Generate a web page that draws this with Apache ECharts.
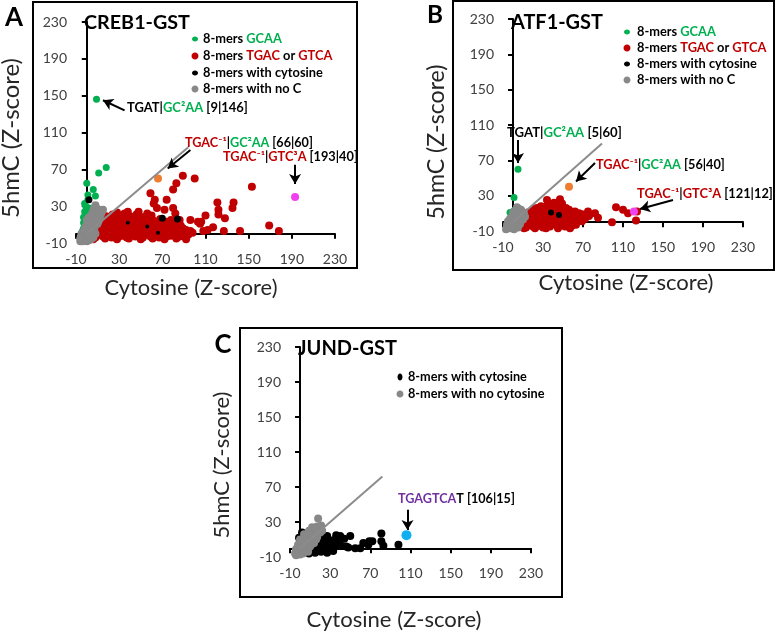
<!DOCTYPE html>
<html><head><meta charset="utf-8">
<script src="https://cdn.jsdelivr.net/npm/echarts@6/dist/echarts.min.js"></script>
<style>html,body{margin:0;padding:0;background:#fff}#c{width:776px;height:634px}</style>
</head><body><div id="c"></div>
<script>
// ---------- axis ticks (same for every panel) ----------
const ticks = [-10, 30, 70, 110, 150, 190, 230];

// ---------- Panel A : CREB1-GST ----------
const greenA = [[9,146],[18,72],[11,66],[0,55],[6,48],[1,42],[8,41],[1,37],[-1,30],[2,28],[-2,24],[1,22],[-3,18],[0,16],[-3,12],[-1,9],[-3,6],[-2,2],[-3,-1],[4,25],[3,20],[-4,3],[-2,33]];
const redA = [
 [4,-2],[8,-4],[12,-1],[15,-3],[19,-2],[23,-4],[26,-1],[30,-3],[34,-2],[37,-4],[41,-1],[45,-3],[48,-2],[52,-4],[56,-1],[59,-3],[63,-2],[67,-4],[70,-1],[74,-3],[78,-2],[82,-1],[86,-3],[90,-2],[94,-1],[98,1],
 [6,-6],[17,-5],[28,-6],[39,-5],[50,-6],[61,-5],[72,-6],[83,-5],[92,-6],
 [2,1],[16,1],[27,0],[38,1],[49,0],[60,1],[71,0],[80,1],[91,0],
 [6,3],[10,5],[14,2],[18,4],[21,6],[25,3],[29,5],[32,2],[36,4],[40,6],[43,3],[47,5],[51,2],[55,4],[58,6],[62,3],[66,5],[69,2],[73,4],[77,6],[81,3],[85,5],[88,2],[92,4],[96,3],
 [13,7],[24,6],[34,7],[45,7],[56,6],[67,7],[78,6],[89,6],
 [7,9],[11,8],[15,10],[19,8],[23,11],[27,9],[31,8],[35,10],[38,9],[42,11],[46,8],[50,10],[54,9],[57,11],[61,8],[65,10],[68,12],[72,9],[76,11],[80,8],[84,10],[87,9],
 [16,12],[27,12],[39,12],[51,12],[63,12],[70,14],[81,12],
 [9,14],[13,15],[17,13],[21,16],[25,14],[29,15],[33,13],[37,16],[41,14],[45,15],[49,13],[53,16],[57,14],[61,15],[65,13],[74,13],[78,15],
 [15,17],[26,17],[33,17],[43,17],[50,18],[58,17],[68,16],
 [12,18],[18,19],[24,21],[30,20],[35,22],[40,19],[46,21],[52,18],[56,22],[60,20],[48,24],[38,24],[28,23],
 [89,63],[100,60],[83,55],[80,48],[59,44],[153,51],[63,37],[74,37],[65,28],[72,26],[80,28],[82,22],[86,15],[96,15],[103,13],[110,20],
 [121,34],[136,34],[122,26],[135,28],[122,21],[128,17],[106,13],[117,7],[108,3],[112,4],[127,3],[142,3],[169,9],[178,3],[105,11],[62,33]
];
const blackA = [[2,37],[70,17],[84,16]];
const blackAhidden = [[38,12],[56,8],[66,1]];
const greyA = [
 [-6,-5],[-5,-3],[-4,-6],[-3,-4],[-2,-2],[-1,-5],[0,-3],[1,-1],[2,-4],[3,-2],[4,0],[5,-3],[6,1],[7,3],[-5,0],[-3,2],[-1,1],[1,4],[3,5],[5,6],[-4,-8],[-2,-7],[0,-8],[2,-7],[4,-6],[6,-4],[8,0],[-6,-8],
 [-1,8],[0,10],[1,12],[2,9],[3,14],[4,11],[5,16],[6,13],[7,18],[8,15],[9,12],[10,17],[0,15],[2,18],[4,19],[6,8],[8,9],[-2,5],[10,11],[11,14],
 [5,22],[6,25],[7,28],[8,31],[9,24],[10,27],[11,22],[12,25],[13,21],[14,24],[15,26],[7,21],[9,20],[12,18]
];
const orangeA = [[66,60]];
const magentaA = [[193,40]];
const diagA = [[0,0],[94,94]];

// ---------- Panel B : ATF1-GST ----------
const greenB = [[5,60],[1,28],[0,12],[2,14],[-3,11],[4,10],[8,12]];
const redB = [
 [9,-4],[13,-6],[16,-3],[20,-5],[23,-2],[27,-4],[30,-6],[34,-3],[37,-5],[41,-2],[44,-4],[48,-3],[52,-5],[55,-2],[59,-4],[63,-3],
 [11,-7],[22,-7],[33,-7],[45,-7],[57,-7],
 [12,-1],[24,-1],[36,-1],[49,-1],[60,-1],
 [10,1],[14,3],[17,0],[21,2],[25,1],[28,3],[32,0],[35,2],[39,1],[42,3],[46,1],[50,2],[53,0],[57,3],[61,1],[65,2],[69,1],
 [14,4],[27,5],[40,4],[53,4],[64,4],[72,4],
 [12,6],[16,8],[19,5],[23,7],[26,8],[30,6],[33,8],[37,5],[41,7],[44,8],[48,6],[52,5],[55,8],[59,6],[63,7],[67,5],[71,8],[76,7],
 [18,9],[31,9],[45,9],[57,9],[69,9],
 [15,11],[19,12],[22,10],[26,13],[29,11],[33,14],[36,12],[40,10],[43,13],[47,11],[51,14],[54,12],[58,10],[62,12],[66,10],[82,10],[75,12],
 [21,15],[31,14],[44,15],[56,14],[38,19],
 [24,16],[28,18],[31,17],[35,20],[38,16],[42,19],[46,17],[49,21],[53,16],[34,25],[47,26],[41,22],
 [103,17],[110,14],[115,10],[124,12],[123,2],[99,0],[85,5]
];
const blackB = [[46,8],[38,11]];
const greyB = [
 [-7,-8],[-6,-6],[-5,-7],[-4,-5],[-3,-7],[-2,-4],[-1,-6],[0,-3],[1,-5],[2,-2],[3,-4],[4,-1],[5,-3],[6,0],[7,-2],[8,2],
 [-6,-3],[-4,-1],[-2,1],[0,2],[2,4],[4,3],[6,5],[8,6],[10,8],[-3,4],[-1,6],[1,8],[3,10],[5,9],[7,11],[9,12],
 [0,11],[2,13],[4,14],[6,15],[8,14],[11,10],[12,6],[10,3],[4,17],[-5,1],[1,-8],[5,-6]
];
const orangeB = [[56,40]];
const magentaB = [[121,12]];
const diagB = [[0,0],[89,89]];

// ---------- Panel C : JUND-GST ----------
const blackC = [
 [-4,-6],[-2,-3],[0,-5],[2,-1],[4,-4],[6,0],[8,-2],[10,1],[12,-3],[14,2],[16,-1],[18,3],[20,0],[22,2],[24,-2],[26,1],[28,-1],[30,2],
 [9,-6],[15,-5],[21,-4],[27,-5],[33,-3],
 [0,4],[3,7],[5,10],[7,14],[9,17],[11,18],[13,15],[15,12],[17,8],[19,11],[21,14],[23,9],[25,6],[27,8],[29,5],[31,9],[12,7],[8,10],[6,16],[4,14],[2,18],[-1,12],
 [14,19],[18,16],[22,18],[25,12],[20,6],[16,4],[27,14],[10,13],
 [35,10],[38,6],[40,14],[34,2],[31,-1],[46,2],[50,14],[48,1],[55,0],[60,0],[63,6],[68,4],[69,8],[72,8],[81,17],[81,8],[83,3],[98,4],[41,3],[44,11],[36,15]
];
const greyC = [
 [-5,-6],[-4,-4],[-3,-7],[-2,-2],[-1,-5],[0,0],[1,-3],[2,2],[3,-1],[4,4],[5,1],[6,6],[7,3],[8,8],[9,5],[10,10],[11,7],[12,12],[13,9],[14,14],
 [15,11],[16,16],[17,13],[18,19],[19,21],[20,23],[17,25],[-3,0],[-1,3],[1,6],[3,9],[5,12],[-4,-1],[18,34],[0,-7],[4,-3],[8,1],[12,5],
 [2,-4],[6,-2],[10,2],[14,6],[16,10],[-2,4],[2,8],[6,12],[10,16],[13,19],[15,22],[20,18],[22,20],[-4,-8],[3,-6],[8,-4],[0,10],[4,16],[9,20],[12,24],[21,26]
];
const cyanC = [[106,15]];
const diagC = [[0,0],[82,82]];

// ---------- colours ----------
const GREEN = '#00b050', RED = '#c00000', BLACK = '#000000', GREY = '#888888',
      ORANGE = '#ed7d31', MAGENTA = '#f040f0', CYAN = '#10b0f0', PURPLE = '#7030a0';

const FONT = 'Lato, "Open Sans", sans-serif';

// font size that makes a string span a given width (reference fonts differ)
const mctx = document.createElement('canvas').getContext('2d');
function fit(str, weight, target) {
  mctx.font = weight + ' 100px ' + FONT;
  return 100 * target / mctx.measureText(str).width;
}
function plain(s) { return s.replace(/\{[a-z]\|/g, '').replace(/\}/g, ''); }

function richFor(fs) {
  const rs = c => ({fill: c, fontWeight: 'bold', fontSize: fs, fontFamily: FONT});
  return {k: rs('#000'), g: rs(GREEN), r: rs(RED), p: rs(PURPLE)};
}

const grids = [
  {left: 76, top: 22, width: 259, height: 221},
  {left: 503, top: 19, width: 240, height: 212},
  {left: 290, top: 347, width: 241, height: 210}
];

function axis(i) {
  return {
    gridIndex: i, type: 'value', min: ticks[0], max: ticks[ticks.length - 1], interval: ticks[1] - ticks[0],
    axisLine: {show: true, lineStyle: {color: '#000', width: 2}},
    axisTick: {show: true, inside: false, length: 5, lineStyle: {color: '#000', width: 2}},
    axisLabel: {color: '#404040', fontSize: 14, fontFamily: FONT, margin: 9},
    splitLine: {show: false}
  };
}

function scat(name, data, color, size, gi, extra) {
  return Object.assign({
    name, type: 'scatter', xAxisIndex: gi, yAxisIndex: gi, data,
    symbolSize: size, itemStyle: {color, opacity: 1}, silent: true, clip: false
  }, extra || {});
}
function diag(data, gi) {
  return {type: 'line', xAxisIndex: gi, yAxisIndex: gi, data, showSymbol: false, silent: true,
    lineStyle: {color: '#8c8c8c', width: 2}};
}
function arrows(list) {
  return {silent: true, symbol: ['none', 'arrow'], symbolSize: [9, 10],
    lineStyle: {color: '#000', width: 2, type: 'solid'}, label: {show: false},
    data: list.map(a => [{coord: a[0]}, {coord: a[1]}])};
}

const series = [
  scat('gA', greenA, GREEN, 7, 0),
  scat('rA', redA, RED, 8, 0),
  scat('kA2', blackAhidden, BLACK, 4, 0),
  scat('kA', blackA, BLACK, 7, 0),
  scat('yA', greyA, GREY, 8, 0),
  diag(diagA, 0),
  scat('oA', orangeA, ORANGE, 8, 0, {markLine: arrows([[[35,134],[15,145]], [[96,91],[75,71]]])}),
  scat('mA', magentaA, MAGENTA, 8, 0, {markLine: arrows([[[193,75],[193,54]]])}),

  scat('gB', greenB, GREEN, 7, 1),
  scat('rB', redB, RED, 8, 1),
  scat('kB', blackB, BLACK, 6, 1),
  scat('yB', greyB, GREY, 8, 1),
  diag(diagB, 1),
  scat('oB', orangeB, ORANGE, 8, 1, {markLine: arrows([[[5,93],[5,67]], [[82,67],[63,46]]])}),
  scat('mB', magentaB, MAGENTA, 8, 1, {markLine: arrows([[[160,25],[127,15]]])}),

  scat('kC', blackC, BLACK, 8, 2),
  scat('yC', greyC, GREY, 8, 2),
  diag(diagC, 2),
  scat('cC', cyanC, CYAN, 10, 2, {markLine: arrows([[[107,44],[107,21]]])})
];

// ---------- text helpers ----------
// bold rich text, left edge x, vertical centre y, fitted to the reference width w
function btxt(x, y, text, w, fsOverride) {
  const fs = fsOverride || fit(plain(text), 'bold', w);
  return {type: 'text', x, y, silent: true, z: 100, style: {
    text, fill: '#000', fontFamily: FONT, fontSize: fs, fontWeight: 'bold',
    textAlign: 'left', textVerticalAlign: 'middle', rich: richFor(fs)}};
}
function ctxt(x, y, text, w, weight, rot) {
  const fs = fit(text, weight, w);
  return {type: 'text', x, y, rotation: rot || 0, silent: true, z: 100, style: {
    text, fill: weight === 'bold' ? '#000' : '#262626', fontFamily: FONT, fontSize: fs, fontWeight: weight,
    textAlign: 'center', textVerticalAlign: 'middle'}};
}
function dot(x, y, color, rx, ry) {
  return {type: 'ellipse', shape: {cx: x, cy: y, rx, ry}, style: {fill: color}, silent: true, z: 100};
}
function frame(x, y, w, h) {
  return {type: 'rect', shape: {x, y, width: w, height: h}, style: {fill: 'none', stroke: '#000', lineWidth: 2}, silent: true, z: 90};
}

const legA = fit('8-mers with cytosine', 'bold', 120);
const legB = fit('8-mers with cytosine', 'bold', 120);
const legC = fit('8-mers with cytosine', 'bold', 119);

const graphic = [
  frame(33, 2, 324, 266),
  frame(453, 1, 321, 269),
  frame(240, 328, 322, 269),

  ctxt(14, 18, 'A', 18, 'bold'),
  ctxt(435, 15, 'B', 16, 'bold'),
  ctxt(223, 345, 'C', 17, 'bold'),

  btxt(84, 23, 'CREB1-GST', 106),
  btxt(511, 23, 'ATF1-GST', 92),
  btxt(298, 349, 'JUND-GST', 99),

  ctxt(191, 288, 'Cytosine (Z-score)', 173, 'normal'),
  ctxt(626, 283, 'Cytosine (Z-score)', 175, 'normal'),
  ctxt(394, 620, 'Cytosine (Z-score)', 175, 'normal'),
  ctxt(11, 138, '5hmC (Z-score)', 160, 'normal', Math.PI / 2),
  ctxt(437, 142, '5hmC (Z-score)', 155, 'normal', Math.PI / 2),
  ctxt(222, 465, '5hmC (Z-score)', 147, 'normal', Math.PI / 2),

  // legend A
  dot(195, 39, GREEN, 3, 2.5), btxt(203, 39, '{k|8-mers }{g|GCAA}', 0, legA),
  dot(195, 56, RED, 3.5, 3.5), btxt(203, 56, '{k|8-mers }{r|TGAC}{k| or }{r|GTCA}', 0, legA),
  dot(195, 73, BLACK, 3, 2.5), btxt(203, 73, '{k|8-mers with cytosine}', 0, legA),
  dot(195, 89, GREY, 3.5, 3.5), btxt(203, 89, '{k|8-mers with no C}', 0, legA),
  // legend B
  dot(627, 32, GREEN, 3, 2.5), btxt(637, 32, '{k|8-mers }{g|GCAA}', 0, legB),
  dot(627, 48, RED, 3.5, 3.5), btxt(637, 48, '{k|8-mers }{r|TGAC}{k| or }{r|GTCA}', 0, legB),
  dot(627, 64, BLACK, 3, 2.5), btxt(637, 64, '{k|8-mers with cytosine}', 0, legB),
  dot(627, 80, GREY, 3.5, 3.5), btxt(637, 80, '{k|8-mers with no C}', 0, legB),
  // legend C
  dot(400, 377, BLACK, 2.5, 3.5), btxt(408, 377, '{k|8-mers with cytosine}', 0, legC),
  dot(400, 394, GREY, 3.5, 3.5), btxt(408, 394, '{k|8-mers with no cytosine}', 0, legC),

  // annotations
  btxt(127, 108, '{k|TGAT|}{g|GC²AA}{k| [9|146]}', 121),
  btxt(185, 143, '{r|TGAC⁻¹}{k||}{g|GC²AA}{k| [66|60]}', 128),
  btxt(223, 157, '{r|TGAC⁻¹}{k||}{r|GTC³A}{k| [193|40]}', 135),
  btxt(507, 133, '{k|TGAT|}{g|GC²AA}{k| [5|60]}', 115),
  btxt(596, 165, '{r|TGAC⁻¹}{k||}{g|GC²AA}{k| [56|40]}', 129),
  btxt(637, 194, '{r|TGAC⁻¹}{k||}{r|GTC³A}{k| [121|12]}', 136),
  btxt(398, 499, '{p|TGAGTCA}{k|T [106|15]}', 116)
];

const chart = echarts.init(document.getElementById('c'), null, {renderer: 'canvas'});
chart.setOption({
  animation: false,
  backgroundColor: '#fff',
  grid: grids,
  xAxis: [axis(0), axis(1), axis(2)],
  yAxis: [axis(0), axis(1), axis(2)],
  series,
  graphic
});
</script></body></html>
